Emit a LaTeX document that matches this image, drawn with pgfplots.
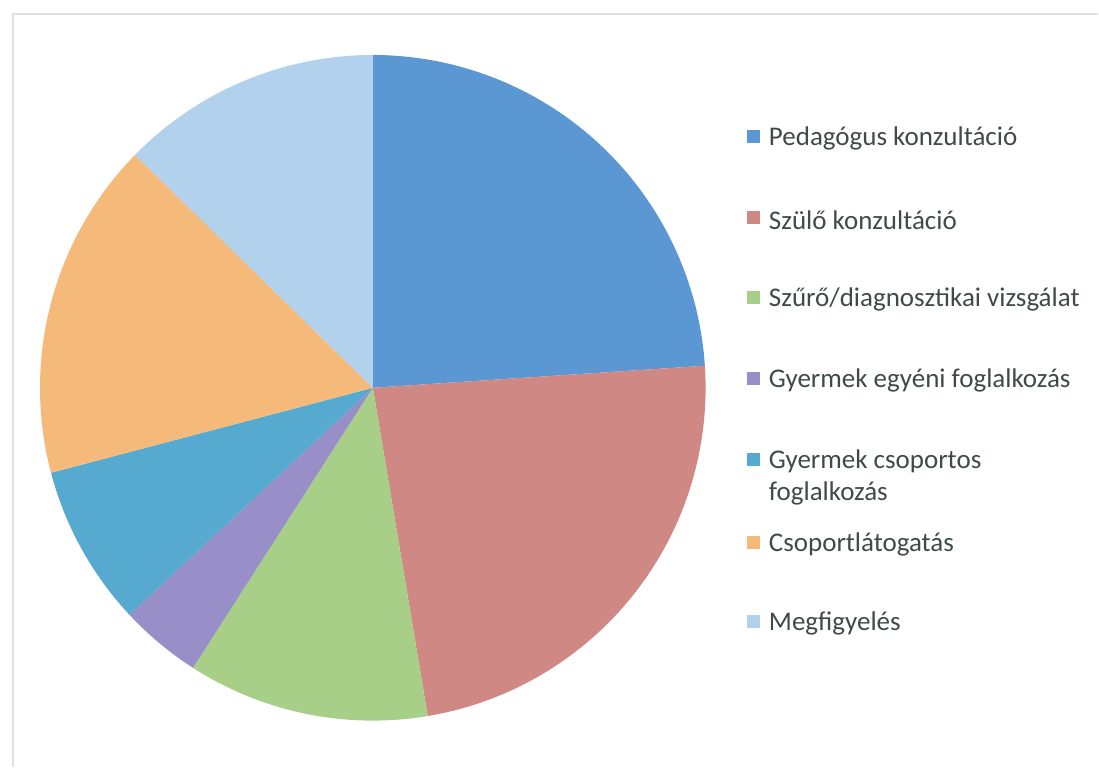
\documentclass[border=0pt]{standalone}
\usepackage{pgfplots}
\pgfplotsset{compat=1.18}
\usepackage{fontspec}
\setmainfont{Carlito}
\definecolor{cA}{RGB}{91,152,211}
\definecolor{cB}{RGB}{208,136,133}
\definecolor{cC}{RGB}{167,207,136}
\definecolor{cD}{RGB}{152,142,200}
\definecolor{cE}{RGB}{86,170,208}
\definecolor{cF}{RGB}{245,185,122}
\definecolor{cG}{RGB}{178,209,236}
\definecolor{txt}{RGB}{64,74,72}
\definecolor{framec}{RGB}{225,225,225}
\newcommand{\pieslice}[3]{%
  \addplot[fill=#3, draw=none, domain=#1:#2, samples=80]
    ({373+333*cos(x)},{379+333*sin(x)}) -- (axis cs:373,379) -- cycle;}
\newcommand{\legitem}[3]{%
  \fill[#3] (axis cs:747,{767-#1-6.5}) rectangle (axis cs:760,{767-#1+6.5});
  \node[anchor=west, inner sep=0pt, text=txt, font=\fontsize{13.5}{16}\selectfont, align=left] at (axis cs:769,{767-#1-2}) {#2};}
\begin{document}
\begin{tikzpicture}
\begin{axis}[
  scale only axis, width=549.5pt, height=383.5pt,
  xmin=0, xmax=1099, ymin=0, ymax=767,
  hide axis, clip=false]
\path (axis cs:0,0) rectangle (axis cs:1099,767);
\draw[framec, line width=0.6pt] (axis cs:13,0) -- (axis cs:13,753) -- (axis cs:1099,753);
% slice angles (degrees)
\pieslice{3.8}{90}{cA}
\pieslice{-80.5}{3.8}{cB}
\pieslice{-122.7}{-80.5}{cC}
\pieslice{-137}{-122.7}{cD}
\pieslice{-165.2}{-137}{cE}
\pieslice{-224.4}{-165.2}{cF}
\pieslice{-270}{-224.4}{cG}
\legitem{137}{Pedagógus konzultáció}{cA}
\legitem{218}{Szülő konzultáció}{cB}
\legitem{298}{Szűrő/diagnosztikai vizsgálat}{cC}
\legitem{379}{Gyermek egyéni foglalkozás}{cD}
\legitem{460}{Gyermek csoportos}{cE}
\node[anchor=west, inner sep=0pt, text=txt, font=\fontsize{13.5}{16}\selectfont] at (axis cs:769,{767-494}) {foglalkozás};
\legitem{543}{Csoportlátogatás}{cF}
\legitem{622}{Megfigyelés}{cG}
\end{axis}
\end{tikzpicture}
\end{document}
